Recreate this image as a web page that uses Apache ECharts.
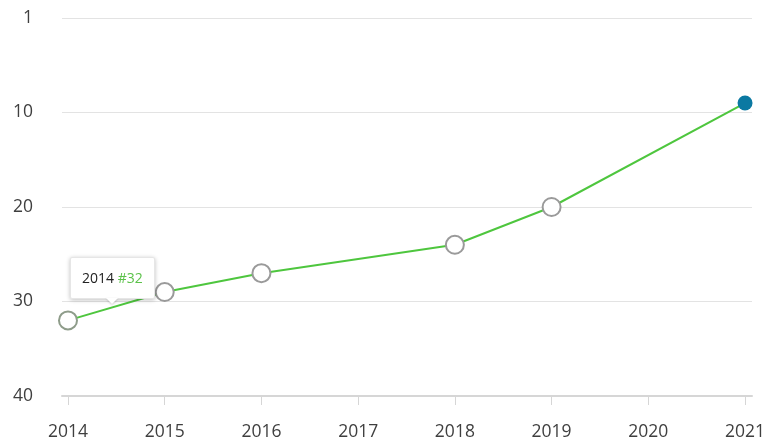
<!DOCTYPE html>
<html><head><meta charset="utf-8">
<script src="https://cdn.jsdelivr.net/npm/echarts@6/dist/echarts.min.js"></script>
<style>html,body{margin:0;padding:0;background:#fff}#c{width:770px;height:445px}</style>
</head><body><div id="c"></div>
<script>
const years = [2014, 2015, 2016, 2018, 2019, 2021];
const ranks = [32, 29, 27, 24, 20, 9];
const xTickYears = [2014, 2015, 2016, 2017, 2018, 2019, 2020, 2021];
const yTicks = [0, 10, 20, 30, 40];
const tipIndex = 0;

const chart = echarts.init(document.getElementById('c'));
const FONT = 'Open Sans';
const data = years.map((y, i) => {
  const d = { value: [y, ranks[i]] };
  if (i === years.length - 1) {
    d.symbol = 'circle'; d.symbolSize = 15;
    d.itemStyle = { color: '#0b79a2', borderWidth: 0 };
  } else if (i === tipIndex) {
    d.itemStyle = { borderColor: '#8e9c8a' };
  }
  return d;
});
chart.setOption({
  animation: false,
  grid: { left: 62, right: 18, top: 18, bottom: 49 },
  xAxis: {
    type: 'value', position: 'bottom', min: 2014 - 0.062, max: 2021 + 0.072,
    axisLine: { show: true, onZero: false, lineStyle: { color: '#d6d6d6', width: 2 } },
    axisTick: { show: true, customValues: xTickYears, length: 9, lineStyle: { color: '#d6d6d6' } },
    axisLabel: { customValues: xTickYears, margin: 27, color: '#3f3f3f', fontSize: 17.5, fontFamily: FONT,
      formatter: v => String(v) },
    splitLine: { show: false }
  },
  yAxis: {
    type: 'value', inverse: true, min: 0, max: 40, interval: 10,
    axisLine: { show: false }, axisTick: { show: false },
    axisLabel: { margin: 29, color: '#3f3f3f', fontSize: 17.5, fontFamily: FONT,
      formatter: v => (v === 0 ? '1' : String(v)) },
    splitLine: { lineStyle: { color: '#e3e3e3', width: 1 } }
  },
  tooltip: {
    trigger: 'item', triggerOn: 'none', alwaysShowContent: true,
    backgroundColor: '#fff', borderColor: '#e6e6e6', borderWidth: 1,
    padding: [11, 11], extraCssText: 'box-shadow:0 1px 4px rgba(0,0,0,0.25);border-radius:2px;overflow:visible;',
    textStyle: { fontFamily: FONT, fontSize: 14, color: '#222' },
    formatter: p => '<div style="position:relative;line-height:18px">' + p.value[0] +
      ' <span style="color:#5cc24a">#' + p.value[1] + '</span>' +
      '<div style="position:absolute;left:50%;bottom:-17px;margin-left:-6px;width:0;height:0;border-left:6px solid transparent;border-right:6px solid transparent;border-top:6px solid #fff;filter:drop-shadow(0 1px 1px rgba(0,0,0,0.2))"></div></div>',
    position: function (point, params, dom, rect, size) {
      const px = chart.convertToPixel({ gridIndex: 0 }, params.value);
      return [px[0] + 2, px[1] - 63];
    }
  },
  series: [{
    type: 'line', data: data,
    lineStyle: { color: '#4ec63e', width: 2 },
    symbol: 'circle', symbolSize: 18,
    itemStyle: { color: '#fff', borderColor: '#9a9a9a', borderWidth: 2 },
    emphasis: { disabled: true }
  }]
});
chart.dispatchAction({ type: 'showTip', seriesIndex: 0, dataIndex: tipIndex });
</script></body></html>
